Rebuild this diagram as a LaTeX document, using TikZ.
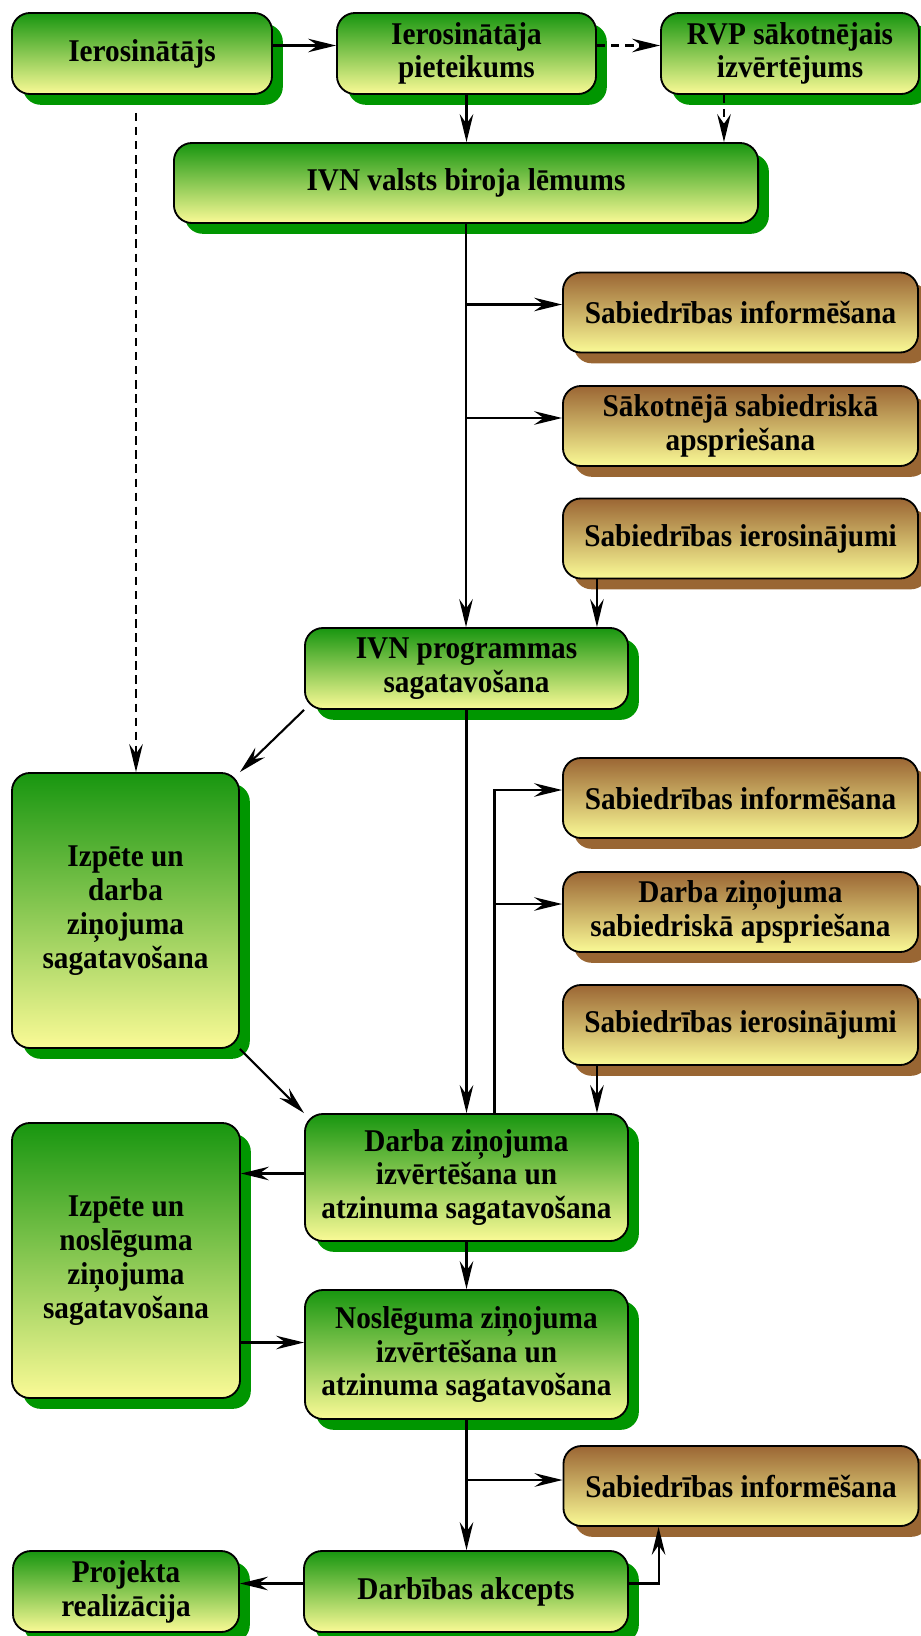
\documentclass[tikz,border=0pt]{standalone}
\usepackage{fontspec}
\setmainfont[FakeStretch=0.925]{Liberation Serif}
\usetikzlibrary{arrows.meta, shadows, positioning}

\definecolor{boxgreen}{RGB}{24,150,16}
\definecolor{shadegreen}{RGB}{0,150,0}
\definecolor{boxyellow}{RGB}{250,250,150}
\definecolor{boxbrown}{RGB}{155,102,52}
\definecolor{shadebrown}{RGB}{153,102,51}

\begin{document}
\begin{tikzpicture}[
    x=0.025cm, y=-0.025cm,
    >={Stealth[length=7mm, width=3.4mm, inset=2.4mm]},
    % Box styles
    basebox/.style={rectangle, rounded corners=0.45cm, draw=black, line width=1.3pt,
        bottom color=boxyellow, align=center, inner sep=0pt,
        font=\fontsize{22.5}{24}\selectfont\bfseries},
    stagebox/.style={basebox, top color=boxgreen, bottom color=boxyellow,
        drop shadow={shadow xshift=0.27cm, shadow yshift=-0.27cm, fill=shadegreen, opacity=1}},
    publicbox/.style={basebox, top color=boxbrown, bottom color=boxyellow,
        minimum width=8.875cm, minimum height=2cm,
        drop shadow={shadow xshift=0.27cm, shadow yshift=-0.27cm, fill=shadebrown, opacity=1}},
    % Connector styles
    flow/.style={->, line width=1.5pt},
    dashflow/.style={flow, dash pattern=on 6pt off 4pt}
]
    \useasboundingbox (0,0) rectangle (920,1636);

    % === TOP ROW ===
    \node[stagebox, minimum width=6.5cm, minimum height=2.025cm] (init) at (142,53.5) {Ierosinātājs};
    \node[stagebox, minimum width=6.475cm, minimum height=2.025cm] (app) at (466.5,53.5) {Ierosinātāja\\pieteikums};
    \node[stagebox, minimum width=6.45cm, minimum height=2.025cm] (rvp) at (790,53.5) {RVP sākotnējais\\izvērtējums};
    \node[stagebox, minimum width=14.6cm, minimum height=2cm] (dec) at (466,183) {IVN valsts biroja lēmums};

    % === PROGRAMME STAGE ===
    \node[publicbox] (info1) at (740.5,312.5) {Sabiedrības informēšana};
    \node[publicbox] (cons1) at (740.5,426) {Sākotnējā sabiedriskā\\apspriešana};
    \node[publicbox] (prop1) at (740.5,538.5) {Sabiedrības ierosinājumi};
    \node[stagebox, minimum width=8.075cm, minimum height=2.025cm] (prog) at (466.5,668.5) {IVN programmas\\sagatavošana};

    % === REPORT STAGE ===
    \node[stagebox, minimum width=5.675cm, minimum height=6.875cm] (study1) at (125.5,910.5) {Izpēte un\\darba\\ziņojuma\\sagatavošana};
    \node[publicbox] (info2) at (740.5,798) {Sabiedrības informēšana};
    \node[publicbox] (cons2) at (740.5,912) {Darba ziņojuma\\sabiedriskā apspriešana};
    \node[publicbox] (prop2) at (740.5,1025) {Sabiedrības ierosinājumi};
    \node[stagebox, minimum width=8.075cm, minimum height=3.175cm] (eval1) at (466.5,1177.5) {Darba ziņojuma\\izvērtēšana un\\atzinuma sagatavošana};

    % === FINAL STAGE ===
    \node[stagebox, minimum width=5.7cm, minimum height=6.875cm] (study2) at (126,1260.5) {Izpēte un\\noslēguma\\ziņojuma\\sagatavošana};
    \node[stagebox, minimum width=8.075cm, minimum height=3.225cm] (eval2) at (466.5,1354.5) {Noslēguma ziņojuma\\izvērtēšana un\\atzinuma sagatavošana};
    \node[publicbox] (info3) at (741,1486) {Sabiedrības informēšana};
    \node[stagebox, minimum width=8.1cm, minimum height=2.025cm] (accept) at (466,1591.5) {Darbības akcepts};
    \node[stagebox, minimum width=5.65cm, minimum height=2.025cm] (impl) at (126,1591.5) {Projekta\\realizācija};

    % Top row connectors
    \draw[flow] ([yshift=2mm]init.east) -- ([yshift=2mm]app.west);
    \draw[dashflow] ([yshift=2mm]app.east) -- ([yshift=2mm]rvp.west);
    \draw[flow] (app.south) -- (app.south |- dec.north);
    \coordinate (rvpout) at ([xshift=-1.65cm]rvp.south);
    \draw[dashflow] (rvpout) -- (rvpout |- dec.north);
    \coordinate (initout) at ([xshift=-0.15cm]init.south);
    \draw[dashflow, shorten <=0.45cm] (initout) -- (initout |- study1.north);

    % Decision to programme
    \draw[flow] (dec.south) -- (dec.south |- prog.north);
    \coordinate (in1) at ([yshift=2mm]info1.west);
    \coordinate (in2) at ([yshift=2mm]cons1.west);
    \draw[flow] (dec.south |- in1) -- (in1);
    \draw[flow] (dec.south |- in2) -- (in2);
    \coordinate (pin1) at ([xshift=-8mm]prog.north east);
    \draw[flow] (prop1.south -| pin1) -- (pin1);

    % Programme to report
    \draw[flow] (prog.south west) -- (study1.north east);
    \draw[flow] (prog.south) -- (prog.south |- eval1.north);
    \coordinate (up) at ([xshift=7mm]eval1.north);
    \coordinate (in3) at ([yshift=2mm]info2.west);
    \coordinate (in4) at ([yshift=2mm]cons2.west);
    \draw[flow] (up) |- (in3);
    \draw[flow] (up) |- (in4);
    \coordinate (pin2) at ([xshift=-8mm]eval1.north east);
    \draw[flow] (prop2.south -| pin2) -- (pin2);
    \draw[flow] (study1.south east) -- (eval1.north west);

    % Report to acceptance
    \coordinate (out1) at ([yshift=1mm]eval1.west);
    \draw[flow] (out1) -- (out1 -| study2.east);
    \coordinate (in5) at ([yshift=3mm]eval2.west);
    \draw[flow] (in5 -| study2.east) -- (in5);
    \draw[flow] (eval1.south) -- (eval1.south |- eval2.north);
    \draw[flow] (eval2.south) -- (eval2.south |- accept.north);
    \coordinate (in6) at ([yshift=1.5mm]info3.west);
    \draw[flow] (eval2.south |- in6) -- (in6);
    \coordinate (out2) at ([yshift=2mm]accept.west);
    \draw[flow] (out2) -- (out2 -| impl.east);
    \coordinate (out3) at ([yshift=2mm]accept.east);
    \coordinate (pin3) at ([xshift=2.4cm]info3.south west);
    \draw[flow] (out3) -| (pin3);

\end{tikzpicture}
\end{document}
